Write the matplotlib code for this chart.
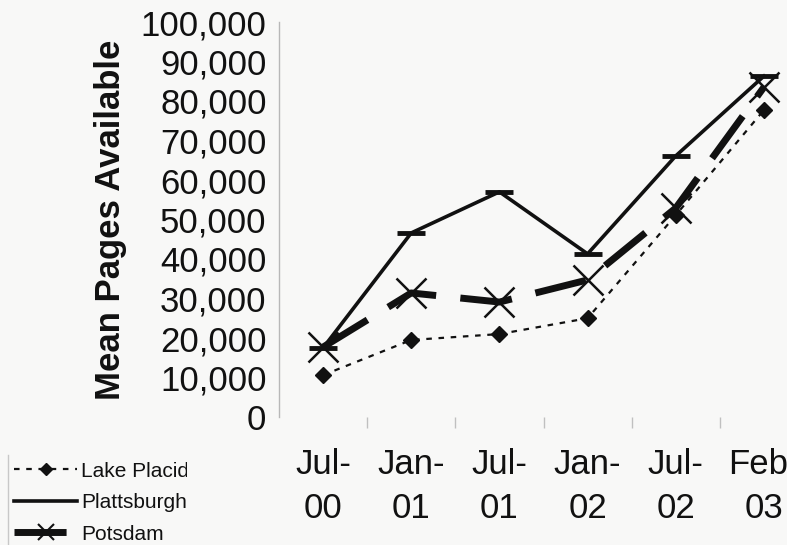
import numpy as np
import matplotlib
matplotlib.use("Agg")
import matplotlib.pyplot as plt
from matplotlib.ticker import FuncFormatter, FixedLocator
from matplotlib.transforms import Bbox

# survey dates and mean pages available per library
dates = ["Jul-\n00", "Jan-\n01", "Jul-\n01", "Jan-\n02", "Jul-\n02", "Feb-\n03"]
lake_placid = [10600, 19500, 21000, 25000, 51100, 77700]
plattsburgh = [17500, 46600, 57000, 41300, 66100, 86300]
potsdam = [17700, 31400, 29100, 34700, 52900, 83500]

plt.rcParams['font.family'] = ['Liberation Sans', 'DejaVu Sans']

fig = plt.figure(figsize=(7.87, 5.45), dpi=100)
fig.patch.set_facecolor('#f8f8f7')
ax = fig.add_axes([279 / 787, 128 / 545, 529 / 787, 395 / 545])
ax.set_facecolor('none')

x = np.arange(len(dates))
ink = '#111111'

ax.plot(x, lake_placid, color=ink, lw=1.6, ls=(0, (2.5, 3)),
        marker='D', ms=8, label='Lake Placid')
ax.plot(x, plattsburgh, color=ink, lw=2.6, ls='-',
        marker='_', ms=20, mew=3.5, label='Plattsburgh')
ax.plot(x, potsdam, color=ink, lw=5, ls=(0, (7.5, 3.5)),
        marker='x', ms=22, mew=1.8, label='Potsdam')

ax.set_xlim(-0.5, len(dates) - 0.5)
ax.set_ylim(0, 100000)
ax.set_yticks(np.arange(0, 100001, 10000))
ax.yaxis.set_major_formatter(FuncFormatter(lambda v, p: f"{int(v):,}"))
ax.set_xticks(x)
ax.set_xticklabels(dates, linespacing=1.45)
ax.xaxis.set_minor_locator(FixedLocator(x[:-1] + 0.5))

for side in ['top', 'right', 'bottom']:
    ax.spines[side].set_visible(False)
ax.spines['left'].set_color('#b8b8b8')
ax.spines['left'].set_linewidth(1)

ax.tick_params(axis='y', length=0, pad=9, labelsize=25, labelcolor=ink)
ax.tick_params(axis='x', which='major', length=0, pad=22, labelsize=25, labelcolor=ink)
ax.tick_params(axis='x', which='minor', length=8, width=1, color='#c0c0c0', direction='out')

ax.set_ylabel('Mean Pages Available', fontsize=25, fontweight='bold', color=ink, labelpad=10)

leg = fig.legend(loc='lower left', bbox_to_anchor=(8 / 787, -5 / 545), frameon=False,
                 fontsize=15, handlelength=3.0, handletextpad=0.2, labelspacing=0.6,
                 borderaxespad=0, borderpad=0.3)
# smaller symbols in the key
lp_h, pl_h, po_h = leg.legend_handles
lp_h.set_markersize(6)
pl_h.set_marker('None')
po_h.set_markersize(11)
po_h.set_markeredgewidth(1.5)
for t in leg.get_texts():
    t.set_color(ink)
    t.set_clip_box(Bbox.from_extents(0, 0, 187, 545))
    t.set_clip_on(True)
fig.add_artist(plt.Line2D([8 / 787, 8 / 787], [0, 90 / 545], color='#c8c8c8', lw=1))

fig.savefig('out.png', dpi=100, facecolor=fig.get_facecolor())
